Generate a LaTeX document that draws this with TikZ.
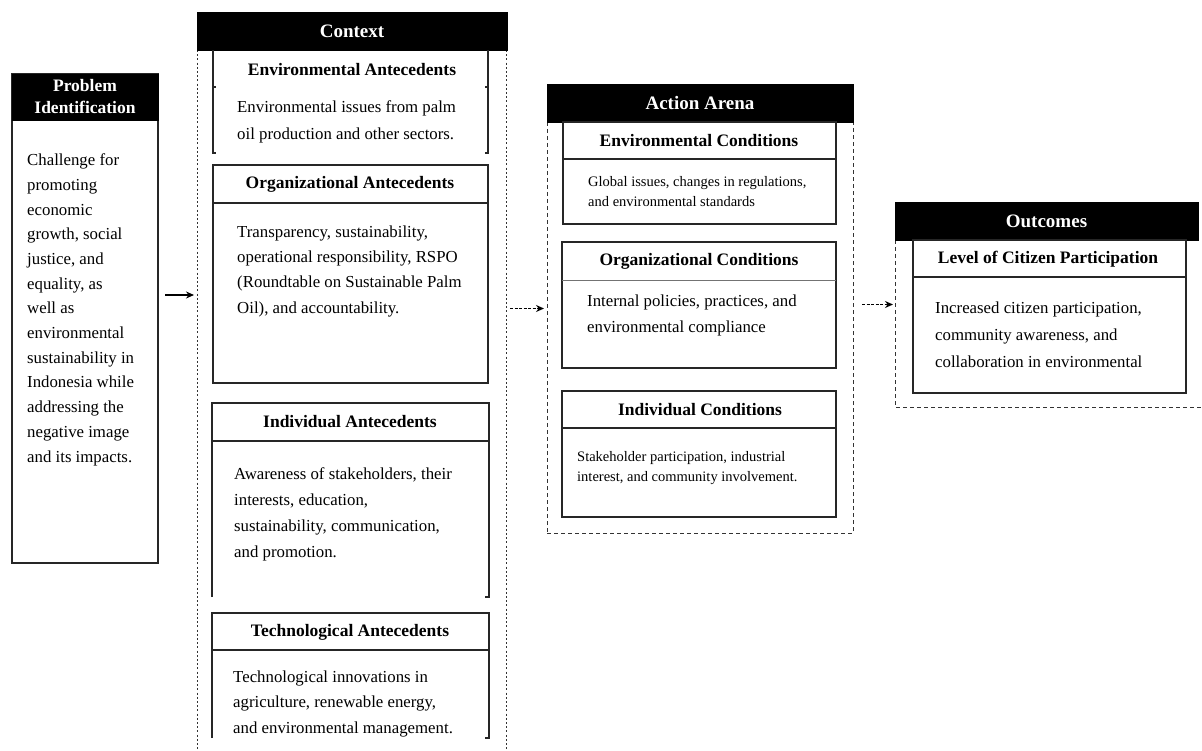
\documentclass[tikz,border=0pt]{standalone}
\usepackage{fontspec}
\setmainfont{Liberation Serif}
\usetikzlibrary{arrows.meta}
\begin{document}
\begin{tikzpicture}[x=1pt,y=-1pt,
  box/.style={draw=black!85, line width=1.1pt},
  thinline/.style={draw=black!55, line width=0.6pt},
  dotline/.style={draw=black!80, line width=0.9pt, dash pattern=on 2pt off 2.2pt},
  dashline/.style={draw=black!80, line width=0.9pt, dash pattern=on 4pt off 3pt},
  frame/.style={anchor=north west, inner sep=0pt, outer sep=0pt},
  hdr/.style={frame, fill=black, draw=black},
  hdrtext/.style={text=white, inner sep=0pt, align=center, font=\fontsize{19}{22}\selectfont\bfseries},
  ttl/.style={inner sep=0pt, font=\fontsize{17.5}{20}\selectfont\bfseries},
  body/.style={anchor=base west, align=left, inner sep=0pt, font=\fontsize{16.8}{#1}\selectfont},
  small/.style={anchor=base west, align=left, inner sep=0pt, font=\fontsize{14.5}{20}\selectfont},
  arr/.style={line width=1.2pt, -{Stealth[length=8pt,width=7pt]}},
  darr/.style={arr, dash pattern=on 3pt off 1.5pt}
]
\useasboundingbox (0,0) rectangle (1202,751);

% ---------- Problem Identification ----------
\node[frame, box, minimum width=146pt, minimum height=489pt] (prob) at (12,74) {};
\node[hdr, minimum width=146pt, minimum height=46pt] (probh) at (12,74) {};
\node[hdrtext, font=\fontsize{17.5}{22}\selectfont\bfseries] (probt) at (85,97) {Problem\\Identification};
% anchor is the baseline of the LAST line
\node[body=24.7] (probb) at (27,462) {Challenge for\\promoting\\economic\\growth, social\\justice, and\\equality, as\\well as\\environmental\\sustainability in\\Indonesia while\\addressing the\\negative image\\and its impacts.};

% ---------- Context ----------
\node[frame, minimum width=309pt, minimum height=739pt] (ctx) at (197,12) {};
\draw[dotline] (197,50) -- (197,751);
\draw[dotline] (506,50) -- (506,751);
\node[hdr, minimum width=310pt, minimum height=38pt] (ctxh) at (197,12) {};
\node[hdrtext] (ctxt) at (ctxh.center) {Context};

% Environmental Antecedents (open bracket box)
\draw[box] (213,50) -- (213,153) -- (216,153);
\draw[box] (488,50) -- (488,153) -- (485,153);
\draw[box] (213,87) -- (216,87);
\draw[box] (488,87) -- (485,87);
\node[ttl] (envAt) at (352,70) {Environmental Antecedents};
\node[body=27] (envAb) at (237,140) {Environmental issues from palm\\oil production and other sectors.};

% Organizational Antecedents
\node[frame, box, minimum width=275pt, minimum height=218pt] (orgA) at (213,165) {};
\draw[box] (213,203) -- (488,203);
\node[ttl] (orgAt) at (350,184) {Organizational Antecedents};
\node[body=25.3] (orgAb) at (237,313) {Transparency, sustainability,\\operational responsibility, RSPO\\(Roundtable on Sustainable Palm\\Oil), and accountability.};

% Individual Antecedents
\draw[box] (212,597) -- (212,403) -- (489,403) -- (489,597) -- (485,597);
\draw[box] (212,441) -- (489,441);
\node[ttl] (indAt) at (350,422) {Individual Antecedents};
\node[body=25.7] (indAb) at (234,557) {Awareness of stakeholders, their\\interests, education,\\sustainability, communication,\\and promotion.};

% Technological Antecedents
\draw[box] (212,738) -- (212,613) -- (489,613) -- (489,738) -- (485,738);
\draw[box] (212,650) -- (489,650);
\node[ttl] (tecAt) at (350,632) {Technological Antecedents};
\node[body=25.5] (tecAb) at (233,733) {Technological innovations in\\agriculture, renewable energy,\\and environmental management.};

% ---------- Action Arena ----------
\node[frame, dashline, minimum width=306pt, minimum height=449pt] (arena) at (547,84) {};
\node[hdr, minimum width=306pt, minimum height=38pt] (arenah) at (547,84) {};
\node[hdrtext] (arenat) at (arenah.center) {Action Arena};

\draw[box] (563,122) rectangle (836,224);
\draw[box] (563,159) -- (836,159);
\node[ttl] (envCt) at (699,141) {Environmental Conditions};
\node[small] (envCb) at (588,207) {Global issues, changes in regulations,\\and environmental standards};

\draw[box] (562,242) rectangle (836,368);
\draw[thinline] (562,280) -- (836,280);
\node[ttl] (orgCt) at (699,261) {Organizational Conditions};
\node[body=26] (orgCb) at (587,333) {Internal policies, practices, and\\environmental compliance};

\draw[box] (562,391) rectangle (836,517);
\draw[box] (562,428) -- (836,428);
\node[ttl] (indCt) at (700,410) {Individual Conditions};
\node[small] (indCb) at (577,481) {Stakeholder participation, industrial\\interest, and community involvement.};

% ---------- Outcomes ----------
\node[frame, minimum width=307pt, minimum height=205pt] (outc) at (895,202) {};
\draw[dashline] (895,240) -- (895,407) -- (1202,407);
\node[hdr, minimum width=303pt, minimum height=38pt] (outch) at (895,202) {};
\node[hdrtext] (outct) at (outch.center) {Outcomes};
\draw[box] (913,240) rectangle (1186,393);
\draw[box] (913,277) -- (1186,277);
\node[ttl] (levt) at (1048,259) {Level of Citizen Participation};
\node[body=27] (levb) at (935,367) {Increased citizen participation,\\community awareness, and\\collaboration in environmental};

% ---------- Arrows ----------
\draw[arr, shorten <=7pt, shorten >=3pt] ([yshift=23.5pt]prob.east) -- ([yshift=23.5pt]prob.east -| ctx.west);
\draw[darr, shorten <=4pt, shorten >=3pt] (ctx.east |- arena.west) -- (arena.west);
\draw[darr, shorten <=9pt, shorten >=2pt] (arena.east |- outc.west) -- (outc.west);
\end{tikzpicture}
\end{document}
